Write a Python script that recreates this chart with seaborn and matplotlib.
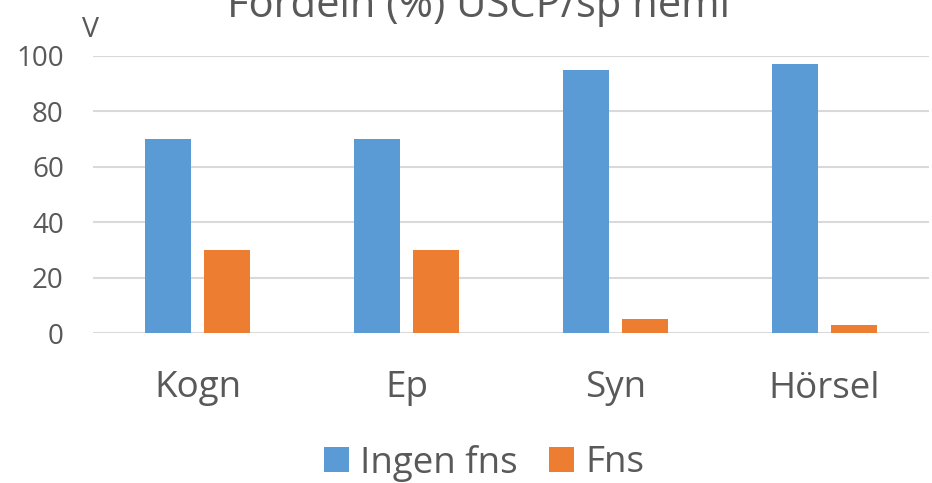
import matplotlib
matplotlib.use("Agg")
import matplotlib.pyplot as plt
import seaborn as sns
import pandas as pd
from matplotlib.patches import Patch

categories = ["Kogn", "Ep", "Syn", "Hörsel"]
ingen_fns = [70, 70, 95, 97]
fns = [30, 30, 5, 3]
series_names = ["Ingen fns", "Fns"]
yticks = [0, 20, 40, 60, 80, 100]
title = "Fördeln (%) USCP/sp hemi"
ylabel_text = "V"

colors = ["#5B9BD5", "#ED7D31"]
text_color = "#595959"
grid_color = "#D9D9D9"

sns.set_theme(style="white")
plt.rcParams["font.family"] = ["Open Sans", "DejaVu Sans"]

df = pd.DataFrame({
    "cat": categories * 2,
    "value": ingen_fns + fns,
    "series": [series_names[0]] * len(categories) + [series_names[1]] * len(categories),
})

fig = plt.figure(figsize=(9.32, 4.83), dpi=100)
ax = fig.add_axes([93 / 932, 1 - 333 / 483, (929 - 93) / 932, (333 - 56) / 483])

sns.barplot(data=df, x="cat", y="value", hue="series", palette=colors,
            width=0.565, gap=0.22, ax=ax, saturation=1, legend=False,
            edgecolor="none", linewidth=0)

ax.set_ylim(0, 100)
ax.set_xlim(-0.5, len(categories) - 0.5)
ax.set_yticks(yticks)
ax.set_yticklabels([str(v) for v in yticks])
ax.yaxis.grid(True, color=grid_color, linewidth=1.5)
ax.set_axisbelow(True)
for s in ax.spines.values():
    s.set_visible(False)
ax.tick_params(axis="y", length=0, pad=21, labelsize=20, labelcolor=text_color)
ax.tick_params(axis="x", length=0, pad=27, labelsize=26.5, labelcolor=text_color)
ax.set_xlabel("")
ax.set_ylabel("")

fig.text(479 / 932, 1 - 17 / 483, title, ha="center", va="baseline",
         fontsize=30, color=text_color)
fig.text(90 / 932, 1 - 37 / 483, ylabel_text, ha="center", va="baseline",
         fontsize=20.5, color=text_color)

handles = [Patch(facecolor=c, edgecolor="none") for c in colors]
fig.legend(handles, series_names, loc="center", bbox_to_anchor=(484 / 932, 1 - 463 / 483),
           ncol=2, frameon=False, fontsize=26.5, labelcolor=text_color,
           handlelength=0.68, handleheight=0.68, handletextpad=0.3, columnspacing=0.85)

fig.savefig("out.png", dpi=100)
